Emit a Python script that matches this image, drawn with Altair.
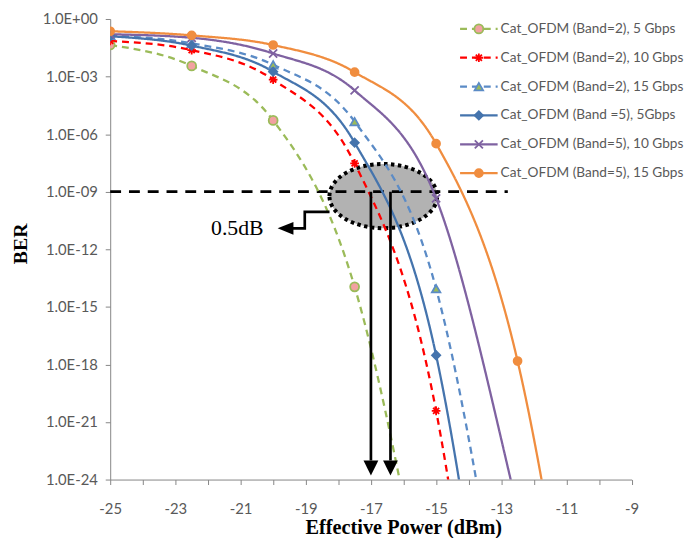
import altair as alt
import pandas as pd

# ---------------- data ----------------
series_names = [
    "Cat_OFDM (Band=2), 5 Gbps",
    "Cat_OFDM (Band=2), 10 Gbps",
    "Cat_OFDM (Band=2), 15 Gbps",
    "Cat_OFDM (Band =5), 5Gbps",
    "Cat_OFDM (Band=5), 10 Gbps",
    "Cat_OFDM (Band=5), 15 Gbps",
]
power_dbm = [-25, -22.5, -20, -17.5, -15, -12.5, -10]
ber_band2_5g = [4.4e-2, 3.6e-3, 5.2e-6, 1.1e-14, 1e-34, None, None]
ber_band2_10g = [7.2e-2, 2.4e-2, 6.9e-4, 3.0e-8, 3.8e-21, 1e-52, None]
ber_band2_15g = [1.4e-1, 5.4e-2, 4.1e-3, 4.5e-6, 8.9e-15, 1e-37, None]
ber_band5_5g = [1.26e-1, 4.1e-2, 1.8e-3, 3.6e-7, 3.0e-18, 1e-46, None]
ber_band5_10g = [1.6e-1, 1.05e-1, 1.6e-2, 1.9e-4, 4.5e-10, 3e-26, 1e-45]
ber_band5_15g = [2.3e-1, 1.4e-1, 4.4e-2, 1.7e-3, 3.2e-7, 1.5e-18, 1e-43]
series_values = [ber_band2_5g, ber_band2_10g, ber_band2_15g,
                 ber_band5_5g, ber_band5_10g, ber_band5_15g]

x_ticks = list(range(-25, -8))
y_ticks = [1e0, 1e-3, 1e-6, 1e-9, 1e-12, 1e-15, 1e-18, 1e-21, 1e-24]
y_tick_labels = ["1.0E+00", "1.0E-03", "1.0E-06", "1.0E-09", "1.0E-12",
                 "1.0E-15", "1.0E-18", "1.0E-21", "1.0E-24"]

# annotation values
ref_ber = [1e-9]
ref_x_start = [-25]
ref_x_end = [-12.8]
ellipse_x = [-16.62]
ellipse_ber = [5.9e-10]
arrow_x = [-17.0, -16.4]
arrow_top_ber = [1e-9, 1e-9]
arrow_end_ber = [1e-23, 1e-23]
arrow_head_ber = [4.0e-24, 4.0e-24]
elbow_x = [-18.27, -19.03, -19.03, -19.4]
elbow_ber = [8.9e-11, 8.9e-11, 1.23e-11, 1.23e-11]
elbow_head_x = [-19.62]
elbow_head_ber = [1.23e-11]
label_x = [-21.1]
label_ber = [1.2e-11]
label_text = ["0.5dB"]

# ---------------- styles ----------------
line_colors = ["#9BBB59", "#FF0000", "#5B8BC6", "#4574AD", "#7F62A1", "#F08D3F"]
line_dashes = [[7, 5], [7, 5], [7, 5], [1, 0], [1, 0], [1, 0]]
line_widths = [2.3, 2.3, 2.3, 3, 3, 3]
marker_shapes = [
    "circle",
    "M -1 0 L 1 0 M 0 -1 L 0 1 M -0.7 -0.7 L 0.7 0.7 M -0.7 0.7 L 0.7 -0.7",
    "triangle-up",
    "diamond",
    "M -1 -1 L 1 1 M -1 1 L 1 -1",
    "circle",
]
marker_fills = ["#F2A1A1", "#FF0000", "#9BBB59", "#4574AD", "#7F62A1", "#F08D3F"]
marker_strokes = ["#9BBB59", "#FF0000", "#5B8BC6", "#4574AD", "#7F62A1", "#F08D3F"]
marker_sizes = [81, 64, 64, 81, 100, 100]

rows = []
for name, vals in zip(series_names, series_values):
    for xv, v in zip(power_dbm, vals):
        if v is not None:
            rows.append({"series": name, "power": xv, "ber": v})
df = pd.DataFrame(rows)

W, H = 527.6, 466
x_scale = alt.Scale(domain=[-25, -9], nice=False, zero=False)
y_scale = alt.Scale(type="log", domain=[1e-24, 1], nice=False)

label_font = "Lato"
ylab_expr = "[" + ",".join("'%s'" % s for s in y_tick_labels) + "][round(-log(datum.value)/LN10/3)]"

x_axis = alt.Axis(values=x_ticks, labelExpr="datum.value % 2 == 0 ? '' : '' + datum.value",
                  grid=False, domainColor="#868686", tickColor="#868686", tickSize=5,
                  labelFont=label_font, labelFontSize=15, labelColor="#595959",
                  labelPadding=17, labelFlush=False, labelOverlap=False,
                  title="Effective Power (dBm)", titleFont="Liberation Serif",
                  titleFontSize=20.5, titleFontWeight="bold", titleColor="black",
                  titlePadding=2, titleX=296.6, titleAlign="center")
y_axis = alt.Axis(values=y_ticks, labelExpr=ylab_expr, grid=False,
                  domainColor="#868686", tickColor="#868686", tickSize=5,
                  labelFont=label_font, labelFontSize=15, labelColor="#595959",
                  labelPadding=8, labelFlush=False, labelOverlap=False,
                  title="BER", titleFont="Liberation Serif", titleFontSize=20,
                  titleFontWeight="bold", titleColor="black", titlePadding=12,
                  titleY=227, titleAlign="center")


def X(field):
    return alt.X(field, scale=x_scale, axis=x_axis)


def Y(field):
    return alt.Y(field, scale=y_scale, axis=y_axis)


color_s = alt.Scale(domain=series_names, range=line_colors)
dash_s = alt.Scale(domain=series_names, range=line_dashes)
width_s = alt.Scale(domain=series_names, range=line_widths)
shape_s = alt.Scale(domain=series_names, range=marker_shapes)
fill_s = alt.Scale(domain=series_names, range=marker_fills)
stroke_s = alt.Scale(domain=series_names, range=marker_strokes)
size_s = alt.Scale(domain=series_names, range=marker_sizes)

# ellipse highlight
ell = alt.Chart(pd.DataFrame({"x": ellipse_x, "ber": ellipse_ber})).mark_point(
    shape="M -1 0 A 1 0.596 0 1 1 1 0 A 1 0.596 0 1 1 -1 0 Z",
    size=109 * 109, filled=True, fill="#B2B2B2", stroke="black",
    strokeWidth=4, strokeDash=[3.5, 3.5], opacity=1, fillOpacity=1,
).encode(x=X("x:Q"), y=Y("ber:Q"))

hline = alt.Chart(pd.DataFrame({"x1": ref_x_start, "x2": ref_x_end, "ber": ref_ber})).mark_rule(
    color="black", strokeWidth=2.7, strokeDash=[11, 8]
).encode(x=X("x1:Q"), x2="x2:Q", y=Y("ber:Q"))

lines = alt.Chart(df).mark_line(interpolate="monotone", clip=True).encode(
    x=X("power:Q"), y=Y("ber:Q"),
    color=alt.Color("series:N", scale=color_s, legend=None),
    strokeDash=alt.StrokeDash("series:N", scale=dash_s, legend=None),
    strokeWidth=alt.StrokeWidth("series:N", scale=width_s, legend=None),
)

points = alt.Chart(df).mark_point(filled=True, clip=True, opacity=1, strokeWidth=1.8).encode(
    x=X("power:Q"), y=Y("ber:Q"),
    shape=alt.Shape("series:N", scale=shape_s, legend=None),
    fill=alt.Fill("series:N", scale=fill_s, legend=None),
    stroke=alt.Stroke("series:N", scale=stroke_s, legend=None),
    size=alt.Size("series:N", scale=size_s, legend=None),
)

arrows = alt.Chart(pd.DataFrame({"x": arrow_x, "b1": arrow_top_ber, "b2": arrow_end_ber})).mark_rule(
    color="black", strokeWidth=2.7
).encode(x=X("x:Q"), y=Y("b1:Q"), y2="b2:Q")

heads = alt.Chart(pd.DataFrame({"x": arrow_x, "ber": arrow_head_ber})).mark_point(
    shape="M -1 -1 L 1 -1 L 0 1 Z", size=225, filled=True, fill="black", opacity=1, strokeWidth=0
).encode(x=X("x:Q"), y=Y("ber:Q"))

elbow = alt.Chart(pd.DataFrame({"x": elbow_x, "ber": elbow_ber, "o": list(range(len(elbow_x)))})).mark_line(
    color="black", strokeWidth=2.7
).encode(x=X("x:Q"), y=Y("ber:Q"), order="o:Q")

elbow_head = alt.Chart(pd.DataFrame({"x": elbow_head_x, "ber": elbow_head_ber})).mark_point(
    shape="M 1 -0.8 L 1 0.8 L -1 0 Z", size=256, filled=True, fill="black", opacity=1, strokeWidth=0
).encode(x=X("x:Q"), y=Y("ber:Q"))

label = alt.Chart(pd.DataFrame({"x": label_x, "ber": label_ber, "t": label_text})).mark_text(
    font="Liberation Serif", fontSize=22, align="center", baseline="middle", color="black"
).encode(x=X("x:Q"), y=Y("ber:Q"), text="t:N")

main = alt.layer(ell, hline, lines, points, arrows, heads, elbow, elbow_head, label)

# manual legend (inside the plot, top right)
df_leg = pd.DataFrame({"series": series_names})
leg_y = alt.Y("series:N", scale=alt.Scale(type="point", domain=series_names, range=[10, 156], padding=0),
              axis=None)
leg_lines = alt.Chart(df_leg).mark_rule().encode(
    x=alt.value(354), x2=alt.value(392), y=leg_y,
    color=alt.Color("series:N", scale=color_s, legend=None),
    strokeDash=alt.StrokeDash("series:N", scale=dash_s, legend=None),
    strokeWidth=alt.StrokeWidth("series:N", scale=width_s, legend=None),
)
leg_points = alt.Chart(df_leg).mark_point(filled=True, opacity=1, strokeWidth=1.8).encode(
    x=alt.value(373), y=leg_y,
    shape=alt.Shape("series:N", scale=shape_s, legend=None),
    fill=alt.Fill("series:N", scale=fill_s, legend=None),
    stroke=alt.Stroke("series:N", scale=stroke_s, legend=None),
    size=alt.Size("series:N", scale=size_s, legend=None),
)
leg_text = alt.Chart(df_leg).mark_text(
    align="left", baseline="middle", font=label_font, fontSize=13.8, color="#595959"
).encode(x=alt.value(395), y=leg_y, text="series:N")
legend = alt.layer(leg_lines, leg_points, leg_text)

chart = alt.layer(main, legend).resolve_scale(y="independent").properties(
    width=W, height=H,
    autosize=alt.AutoSizeParams(type="none"),
    padding={"left": 103.4, "top": 8, "right": 56, "bottom": 56},
    background="white",
).configure_view(stroke=None)

chart.save("out.html", embed_options={"renderer": "svg", "actions": False})
